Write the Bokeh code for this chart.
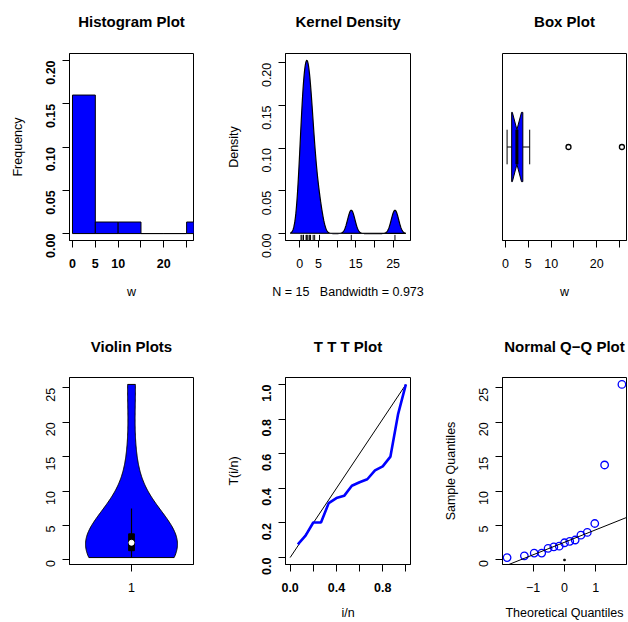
import math
from statistics import NormalDist

import numpy as np
from bokeh.plotting import figure
from bokeh.models import FixedTicker, Range1d, Slope, PrintfTickFormatter, LinearAxis
from bokeh.layouts import gridplot
from bokeh.embed import file_html
from bokeh.resources import INLINE

# ---------------- data ----------------
w_values = [0.35, 0.6, 1.0, 1.0, 1.7, 1.9, 2.0, 2.5, 2.7, 2.9, 3.6, 4.0, 5.3, 13.8, 25.5]
hist_breaks = [0, 5, 10, 15, 20, 25, 30]
hist_ylim = [0.0, 0.2]
kde_bandwidth = 0.973
violin_bandwidth = 4.8

titles = ["Histogram Plot", "Kernel Density", "Box Plot",
          "Violin Plots", "T T T Plot", "Normal Q\u2212Q Plot"]
hist_xlabel, hist_ylabel = "w", "Frequency"
dens_xlabel, dens_ylabel = "N = 15\u00a0\u00a0 Bandwidth = 0.973", "Density"
box_xlabel = "w"
ttt_xlabel, ttt_ylabel = "i/n", "T(i/n)"
qq_xlabel, qq_ylabel = "Theoretical Quantiles", "Sample Quantiles"

w_ticks = [0, 5, 10, 15, 20, 25]
hist_tick_labels = {0: "0", 5: "5", 10: "10", 15: "", 20: "20", 25: ""}
dens_tick_labels = {0: "0", 5: "5", 10: "", 15: "15", 20: "", 25: "25"}
box_tick_labels = {0: "0", 5: "5", 10: "10", 15: "", 20: "20", 25: ""}
prob_ticks = [0.0, 0.05, 0.10, 0.15, 0.20]
violin_ticks = [0, 5, 10, 15, 20, 25]
violin_x_ticks = [1]
ttt_y_ticks = [0.0, 0.2, 0.4, 0.6, 0.8, 1.0]
ttt_x_ticks = [0.0, 0.2, 0.4, 0.6, 0.8, 1.0]
ttt_x_labels = {0.0: "0.0", 0.2: "", 0.4: "0.4", 0.6: "", 0.8: "0.8", 1.0: ""}
ttt_diag = [0.0, 1.0]
qq_x_ticks = [-1, 0, 1]
qq_x_labels = {-1: "\u22121", 0: "0", 1: "1"}
qq_dot_x, qq_dot_y = [0.0], [0.0]

# ---------------- style ----------------
FONT = "Liberation Sans"
BLUE = "#0000FF"
LAB = "12.5px"

COLS = [dict(fw=124, bl=69, br=16), dict(fw=125, bl=76, br=14), dict(fw=124, bl=78, br=1)]
ROWS = [dict(fh=187, bt=53, bb=71, ls=11, als=14, ts=24),
        dict(fh=187, bt=66, bb=57, ls=11, als=11, ts=23)]

w = np.array(sorted(w_values))
n = len(w)


def expand(lo, hi):
    d = (hi - lo) * 0.04
    return lo - d, hi + d


def make_fig(title, r, c, xr, yr, xlabel="", ylabel="", y_axis=True, bold=False):
    col, row = COLS[c], ROWS[r]
    p = figure(title=None, x_range=Range1d(*xr), y_range=Range1d(*yr),
               frame_width=col["fw"], frame_height=row["fh"],
               min_border_left=col["bl"], min_border_right=col["br"],
               min_border_top=row["bt"], min_border_bottom=row["bb"],
               output_backend="svg", toolbar_location=None, tools="",
               y_axis_type=("linear" if y_axis else None))
    # panel title: label of a bare axis above the frame
    tax = LinearAxis(ticker=FixedTicker(ticks=[]), axis_label=title,
                     axis_line_color=None, major_tick_line_color=None,
                     minor_tick_line_color=None, major_tick_out=0, major_tick_in=0,
                     minor_tick_out=0, minor_tick_in=0, major_label_standoff=0,
                     axis_label_standoff=row["ts"], axis_label_text_font=FONT,
                     axis_label_text_font_size="15px", axis_label_text_font_style="bold",
                     axis_label_text_color="black")
    p.add_layout(tax, "above")
    p.xgrid.visible = False
    p.ygrid.visible = False
    p.outline_line_color = "black"
    p.outline_line_alpha = 1.0
    p.outline_line_width = 1
    p.background_fill_color = "white"
    p.border_fill_color = "white"
    for ax in [p.below[0]] + (list(p.left) if y_axis else []):
        ax.axis_line_color = "black"
        ax.major_tick_line_color = "black"
        ax.major_tick_out = 7
        ax.major_tick_in = 0
        ax.minor_tick_line_color = None
        ax.major_label_text_font = FONT
        ax.major_label_text_font_size = LAB
        ax.major_label_text_color = "black"
        ax.major_label_text_font_style = "bold" if bold else "normal"
        ax.axis_label_text_font = FONT
        ax.axis_label_text_font_size = LAB
        ax.axis_label_text_font_style = "normal"
        ax.axis_label_text_color = "black"
    xa = p.below[0]
    xa.axis_label = xlabel
    xa.major_label_standoff = row["ls"]
    xa.axis_label_standoff = row["als"]
    if y_axis:
        ya = p.left[0]
        ya.axis_label = ylabel
        ya.major_label_orientation = math.pi / 2
        ya.major_label_standoff = 12
        ya.axis_label_standoff = 14
    return p


# ---------------- 1: histogram ----------------
hist_dens, edges = np.histogram(w, bins=hist_breaks, density=True)
p1 = make_fig(titles[0], 0, 0, expand(w.min(), w.max()), expand(*hist_ylim),
              hist_xlabel, hist_ylabel, bold=True)
p1.quad(left=edges[:-1], right=edges[1:], bottom=0, top=hist_dens,
        fill_color=BLUE, line_color="black", line_width=1)
p1.below[0].ticker = FixedTicker(ticks=w_ticks)
p1.below[0].major_label_overrides = hist_tick_labels
p1.left[0].ticker = FixedTicker(ticks=prob_ticks)
p1.left[0].formatter = PrintfTickFormatter(format="%.2f")

# ---------------- 2: kernel density ----------------
kx = np.linspace(w.min() - 3 * kde_bandwidth, w.max() + 3 * kde_bandwidth, 512)
ky = np.exp(-0.5 * ((kx[:, None] - w[None, :]) / kde_bandwidth) ** 2).sum(1) / (
    n * kde_bandwidth * math.sqrt(2 * math.pi))
dyr = expand(0.0, ky.max())
p2 = make_fig(titles[1], 0, 1, expand(kx.min(), kx.max()), dyr, dens_xlabel, dens_ylabel)
p2.patch(kx, ky, fill_color=BLUE, line_color="black", line_width=1.2)
rug_top = dyr[0] + 0.03 * (dyr[1] - dyr[0])
p2.segment(x0=w, y0=dyr[0], x1=w, y1=rug_top, line_color="black", line_width=1)
p2.below[0].ticker = FixedTicker(ticks=w_ticks)
p2.below[0].major_label_overrides = dens_tick_labels
p2.left[0].ticker = FixedTicker(ticks=prob_ticks)
p2.left[0].formatter = PrintfTickFormatter(format="%.2f")

# ---------------- 3: box plot ----------------
def hinge_stats(v):
    m = len(v)
    n4 = math.floor((m + 3) / 2) / 2
    d = [n4, (m + 1) / 2, m + 1 - n4]
    return [0.5 * (v[int(math.floor(k)) - 1] + v[int(math.ceil(k)) - 1]) for k in d]

q1, med, q3 = hinge_stats(w)
iqr = q3 - q1
lo_wh = w[w >= q1 - 1.5 * iqr].min()
hi_wh = w[w <= q3 + 1.5 * iqr].max()
outliers = w[(w > q3 + 1.5 * iqr) | (w < q1 - 1.5 * iqr)]
nlo, nhi = med - 1.58 * iqr / math.sqrt(n), med + 1.58 * iqr / math.sqrt(n)
cy, hw = 1.0, 0.2
p3 = make_fig(titles[2], 0, 2, expand(w.min(), w.max()), expand(0.5, 1.5), box_xlabel,
              y_axis=False)
p3.segment(x0=[lo_wh, q3], y0=[cy, cy], x1=[q1, hi_wh], y1=[cy, cy],
           line_color="black", line_width=1)
p3.segment(x0=[lo_wh, hi_wh], y0=[cy - hw / 2] * 2, x1=[lo_wh, hi_wh], y1=[cy + hw / 2] * 2,
           line_color="black", line_width=1)
bx = [q1, q1, nlo, med, nhi, q3, q3, nhi, med, nlo]
by = [cy - hw, cy + hw, cy + hw, cy + hw / 2, cy + hw, cy + hw, cy - hw, cy - hw, cy - hw / 2, cy - hw]
p3.patch(bx, by, fill_color=BLUE, line_color="black", line_width=1)
p3.segment(x0=[med], y0=[cy - hw / 2], x1=[med], y1=[cy + hw / 2], line_color="black", line_width=3)
p3.scatter(outliers, [cy] * len(outliers), marker="circle", size=5, fill_color=None,
           line_color="black", line_width=1.3)
p3.below[0].ticker = FixedTicker(ticks=w_ticks)
p3.below[0].major_label_overrides = box_tick_labels

# ---------------- 4: violin ----------------
vy = np.linspace(w.min(), w.max(), 200)
vd = np.exp(-0.5 * ((vy[:, None] - w[None, :]) / violin_bandwidth) ** 2).sum(1)
vhw = 0.4 * vd / vd.max()
vq1, vq3 = np.quantile(w, 0.25), np.quantile(w, 0.75)
viqr = vq3 - vq1
vlow = max(vq1 - 1.5 * viqr, w.min())
vup = min(vq3 + 1.5 * viqr, w.max())
p4 = make_fig(titles[3], 1, 0, expand(0.5, 1.5), expand(w.min(), w.max()))
p4.patch(np.concatenate([1 - vhw, (1 + vhw)[::-1]]), np.concatenate([vy, vy[::-1]]),
         fill_color=BLUE, line_color="black", line_width=1)
p4.segment(x0=[1], y0=[vlow], x1=[1], y1=[vup], line_color="black", line_width=1.2)
p4.quad(left=[1 - 0.025], right=[1 + 0.025], bottom=[vq1], top=[vq3],
        fill_color="black", line_color="black")
p4.scatter([1], [np.median(w)], marker="circle", size=5, fill_color="white", line_color="white")
p4.below[0].ticker = FixedTicker(ticks=violin_x_ticks)
p4.left[0].ticker = FixedTicker(ticks=violin_ticks)

# ---------------- 5: TTT ----------------
cs = np.cumsum(w)
ttt = (cs + (n - np.arange(1, n + 1)) * w) / cs[-1]
tx = np.arange(1, n + 1) / n
p5 = make_fig(titles[4], 1, 1, expand(0.0, 1.0), expand(0.0, 1.0), ttt_xlabel, ttt_ylabel, bold=True)
p5.line(ttt_diag, ttt_diag, line_color="black", line_width=1)
p5.line(tx, ttt, line_color=BLUE, line_width=2.6)
p5.below[0].ticker = FixedTicker(ticks=ttt_x_ticks)
p5.below[0].major_label_overrides = ttt_x_labels
p5.left[0].ticker = FixedTicker(ticks=ttt_y_ticks)
p5.left[0].formatter = PrintfTickFormatter(format="%.1f")

# ---------------- 6: Normal QQ ----------------
nd = NormalDist()
theo = np.array([nd.inv_cdf((i - 0.5) / n) for i in range(1, n + 1)])
yq1, yq3 = np.quantile(w, 0.25), np.quantile(w, 0.75)
xq1, xq3 = nd.inv_cdf(0.25), nd.inv_cdf(0.75)
slope = (yq3 - yq1) / (xq3 - xq1)
intercept = yq1 - slope * xq1
p6 = make_fig(titles[5], 1, 2, expand(theo.min(), theo.max()), expand(w.min(), w.max()),
              qq_xlabel, qq_ylabel)
p6.add_layout(Slope(gradient=slope, y_intercept=intercept, line_color="black", line_width=1))
p6.scatter(theo, w, marker="circle", size=7.5, fill_color=None, line_color=BLUE, line_width=1.3)
p6.scatter(qq_dot_x, qq_dot_y, marker="square", size=1.5, fill_color="black", line_color="black")
p6.below[0].ticker = FixedTicker(ticks=qq_x_ticks)
p6.below[0].major_label_overrides = qq_x_labels
p6.left[0].ticker = FixedTicker(ticks=violin_ticks)

grid = gridplot([[p1, p2, p3], [p4, p5, p6]], toolbar_location=None)

open("out.html", "w").write(file_html(grid, INLINE))
